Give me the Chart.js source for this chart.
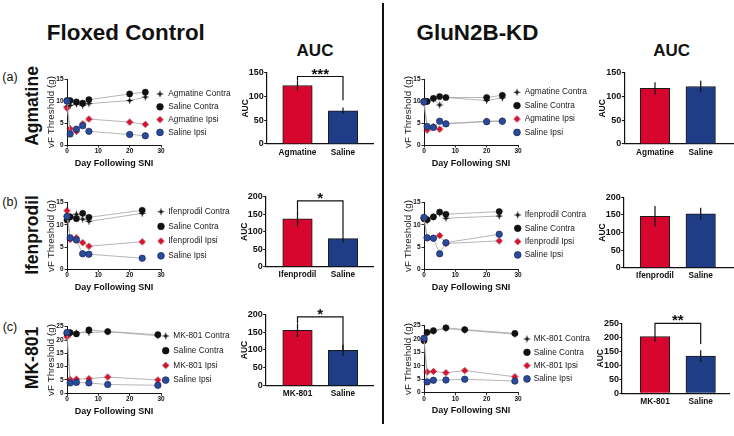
<!DOCTYPE html>
<html><head><meta charset="utf-8">
<script src="https://cdn.jsdelivr.net/npm/chart.js@4.4.1/dist/chart.umd.min.js"></script>
<style>
html,body{margin:0;padding:0;background:#fff;}
body{width:734px;height:436px;position:relative;overflow:hidden;font-family:"Liberation Sans",Arial,sans-serif;color:#111;}
.t{position:absolute;white-space:nowrap;line-height:1;transform:translate(-50%,-50%);}
.r{position:absolute;white-space:nowrap;line-height:1;transform:translate(-50%,-50%) rotate(-90deg);font-weight:bold;}
.box{position:absolute;}
#divider{position:absolute;left:382px;top:3px;width:2px;height:421px;background:#111;}
</style></head><body>
<div id="divider"></div>
<div class="t" style="left:125.8px;top:33.3px;font-size:22.4px;font-weight:bold">Floxed Control</div>
<div class="t" style="left:477.5px;top:33.3px;font-size:22.4px;font-weight:bold">GluN2B-KD</div>
<div class="t" style="left:315px;top:50px;font-size:17px;font-weight:bold">AUC</div>
<div class="t" style="left:671.7px;top:50px;font-size:17px;font-weight:bold">AUC</div>
<div class="t" style="left:10px;top:77px;font-size:12.5px">(a)</div>
<div class="t" style="left:10px;top:202px;font-size:12.5px">(b)</div>
<div class="t" style="left:10px;top:327px;font-size:12.5px">(c)</div>
<div class="r" style="left:33px;top:106px;font-size:17.5px">Agmatine</div>
<div class="r" style="left:33px;top:235px;font-size:17.5px">Ifenprodil</div>
<div class="r" style="left:33px;top:358px;font-size:17.5px">MK-801</div>
<script>
// ---------- DATA ----------
const dayTicks = [0, 10, 20, 30];
const thresholdTicks15 = [0, 5, 10, 15];
const thresholdTicks25 = [0, 5, 10, 15, 20, 25];
const aucTicks150 = [0, 50, 100, 150];
const aucTicks200 = [0, 50, 100, 150, 200];
const aucTicks250 = [0, 50, 100, 150, 200, 250];

const daysAgmatine = [0, 1, 3, 5, 7, 20, 25];
const daysIfenprodil = [0, 1, 3, 5, 7, 24];
const daysMK801 = [0, 1, 3, 7, 13, 29];

const labelsAgmatine = ['Agmatine Contra', 'Saline Contra', 'Agmatine Ipsi', 'Saline Ipsi'];
const labelsIfenprodil = ['Ifenprodil Contra', 'Saline Contra', 'Ifenprodil Ipsi', 'Saline Ipsi'];
const labelsMK801 = ['MK-801 Contra', 'Saline Contra', 'MK-801 Ipsi', 'Saline Ipsi'];

// Floxed control - Agmatine
const floxAgmatineContra = [8.8, 9.0, 9.3, 9.0, 9.4, 10.1, 10.9];
const floxAgSalineContra = [10.1, 10.1, 9.8, 9.5, 10.3, 11.6, 12.0];
const floxAgmatineIpsi = [8.4, 3.7, 3.1, 4.8, 5.9, 5.2, 4.7];
const floxAgSalineIpsi = [10.0, 2.5, 3.6, 4.4, 3.1, 2.4, 2.1];
// GluN2B-KD - Agmatine
const kdAgmatineContra = [9.8, 9.9, 10.4, 9.1, 10.8, 10.1, 10.7];
const kdAgSalineContra = [9.9, 9.9, 10.6, 11.0, 10.8, 10.8, 11.3];
const kdAgmatineIpsi = [9.6, 3.4, 4.2, 3.6, 4.9, 5.4, 5.5];
const kdAgSalineIpsi = [9.8, 4.2, 4.0, 5.4, 4.8, 5.3, 5.4];
// Floxed control - Ifenprodil
const floxIfenprodilContra = [12.0, 11.9, 12.4, 11.3, 10.8, 12.6];
const floxIfSalineContra = [11.1, 11.8, 11.4, 12.6, 11.7, 13.3];
const floxIfenprodilIpsi = [13.2, 6.7, 7.1, 6.0, 5.2, 6.2];
const floxIfSalineIpsi = [11.9, 7.1, 6.6, 3.5, 3.4, 2.5];
// GluN2B-KD - Ifenprodil
const kdIfenprodilContra = [11.5, 10.9, 11.8, 12.6, 11.5, 12.0];
const kdIfSalineContra = [11.4, 11.2, 11.8, 12.9, 12.4, 13.0];
const kdIfenprodilIpsi = [11.5, 7.1, 7.0, 7.6, 5.8, 6.4];
const kdIfSalineIpsi = [11.7, 7.1, 7.0, 3.5, 6.0, 7.9];
// Floxed control - MK-801
const floxMK801Contra = [22.8, 22.3, 22.6, 22.8, 23.1, 21.6];
const floxMKSalineContra = [22.3, 22.8, 22.3, 23.8, 23.2, 22.0];
const floxMK801Ipsi = [21.2, 5.2, 5.3, 5.5, 6.1, 5.0];
const floxMKSalineIpsi = [22.8, 3.9, 4.1, 3.9, 3.3, 3.0];
// GluN2B-KD - MK-801
const kdMK801Contra = [19.6, 22.1, 22.8, 23.8, 23.2, 21.7];
const kdMKSalineContra = [19.3, 22.4, 23.0, 24.1, 23.4, 22.0];
const kdMK801Ipsi = [20.0, 7.7, 7.9, 7.4, 8.2, 5.9];
const kdMKSalineIpsi = [20.2, 4.0, 4.6, 4.7, 5.0, 4.3];

// AUC bars
const aucCatsAgmatine = ['Agmatine', 'Saline'];
const aucCatsIfenprodil = ['Ifenprodil', 'Saline'];
const aucCatsMK801 = ['MK-801', 'Saline'];
const aucFloxAgmatine = [123, 70];
const aucFloxAgmatineErr = [11, 7];
const aucKdAgmatine = [117, 121];
const aucKdAgmatineErr = [13, 12];
const aucFloxIfenprodil = [137, 80];
const aucFloxIfenprodilErr = [23, 10];
const aucKdIfenprodil = [146, 153];
const aucKdIfenprodilErr = [29, 17];
const aucFloxMK801 = [155, 99];
const aucFloxMK801Err = [19, 16];
const aucKdMK801 = [203, 133];
const aucKdMK801Err = [19, 21];
// significance brackets (value units)
const sigFloxAgmatine = {text: '***', y: 142, leftEnd: 134, rightEnd: 92};
const sigFloxIfenprodil = {text: '*', y: 188, leftEnd: 160, rightEnd: 90};
const sigFloxMK801 = {text: '*', y: 193, leftEnd: 175, rightEnd: 100};
const sigKdMK801 = {text: '**', y: 250, leftEnd: 222, rightEnd: 176};

// ---------- STYLE ----------
const FONT = '"Liberation Sans", Arial, sans-serif';
Chart.defaults.font.family = FONT;
Chart.defaults.color = '#111';
const BAR_RED = '#d6062e', BAR_BLUE = '#1f3d87';

function starImg(fill, edge, r, spike) {
  const s = 11, c = document.createElement('canvas');
  c.width = s; c.height = s;
  const g = c.getContext('2d'), m = s / 2;
  if (spike > 0) {
    g.strokeStyle = fill; g.lineWidth = 0.9;
    g.beginPath(); g.moveTo(m, m - spike); g.lineTo(m, m + spike);
    g.moveTo(m - spike, m); g.lineTo(m + spike, m); g.stroke();
  }
  g.beginPath(); g.moveTo(m, m - r); g.lineTo(m + r, m); g.lineTo(m, m + r); g.lineTo(m - r, m); g.closePath();
  g.fillStyle = fill; g.fill();
  if (edge) { g.strokeStyle = edge; g.lineWidth = 0.6; g.stroke(); }
  return c;
}
const STAR_BLACK = starImg('#111', null, 2.2, 3.2);
const STAR_RED = starImg('#d8102e', '#8a0a1e', 3.2, 0);

const seriesStyles = [
  {pointStyle: STAR_BLACK, pointRadius: 4},
  {pointStyle: 'circle', pointRadius: 3.1, pointBackgroundColor: '#111', pointBorderColor: '#111', pointBorderWidth: 0.5},
  {pointStyle: STAR_RED, pointRadius: 4},
  {pointStyle: 'circle', pointRadius: 3.2, pointBackgroundColor: '#2a4b9b', pointBorderColor: '#15275a', pointBorderWidth: 0.7}
];

function drawMarker(ctx, ds, x, y, r) {
  const st = ds.pointStyle;
  if (typeof st === 'object') { ctx.drawImage(st, x - st.width / 2, y - st.height / 2); return; }
  ctx.beginPath(); ctx.arc(x, y, r, 0, Math.PI * 2);
  ctx.fillStyle = ds.pointBackgroundColor; ctx.fill();
  if (ds.pointBorderWidth) { ctx.lineWidth = ds.pointBorderWidth; ctx.strokeStyle = ds.pointBorderColor; ctx.stroke(); }
}

Chart.register({
  id: 'seriesLegend',
  afterDraw(chart, args, o) {
    if (!o || !o.mx) return;
    const ctx = chart.ctx;
    ctx.save();
    ctx.font = '8.3px ' + FONT; ctx.textBaseline = 'middle'; ctx.textAlign = 'left';
    chart.data.datasets.forEach((ds, i) => {
      const y = o.y + i * o.dy;
      drawMarker(ctx, ds, o.mx, y, 3.4);
      ctx.fillStyle = '#1a1a1a';
      ctx.fillText(ds.label, o.tx, y);
    });
    ctx.restore();
  }
});
Chart.register({
  id: 'errorBars',
  afterDatasetsDraw(chart) {
    const ds = chart.data.datasets[0];
    if (!ds || !ds.errors) return;
    const ctx = chart.ctx, ys = chart.scales.y, meta = chart.getDatasetMeta(0);
    ctx.save(); ctx.strokeStyle = '#111'; ctx.lineWidth = 1.2;
    meta.data.forEach((el, i) => {
      const v = ds.data[i].y, e = ds.errors[i];
      ctx.beginPath(); ctx.moveTo(el.x, ys.getPixelForValue(v + e)); ctx.lineTo(el.x, ys.getPixelForValue(v - e)); ctx.stroke();
    });
    ctx.restore();
  }
});
Chart.register({
  id: 'sigBracket',
  afterDatasetsDraw(chart, args, o) {
    if (!o || !o.text) return;
    const ctx = chart.ctx, ys = chart.scales.y, meta = chart.getDatasetMeta(0);
    const x1 = meta.data[0].x, x2 = meta.data[1].x, y = ys.getPixelForValue(o.y);
    ctx.save(); ctx.strokeStyle = '#111'; ctx.lineWidth = 1.2;
    ctx.beginPath();
    ctx.moveTo(x1, ys.getPixelForValue(o.leftEnd)); ctx.lineTo(x1, y); ctx.lineTo(x2, y); ctx.lineTo(x2, ys.getPixelForValue(o.rightEnd));
    ctx.stroke();
    ctx.fillStyle = '#111'; ctx.font = 'bold 15px ' + FONT; ctx.textAlign = 'center'; ctx.textBaseline = 'alphabetic';
    ctx.fillText(o.text, (x1 + x2) / 2, y + 2);
    ctx.restore();
  }
});

function makeCanvas(b) {
  const d = document.createElement('div');
  d.className = 'box';
  d.style.left = b.l + 'px'; d.style.top = b.t + 'px';
  d.style.width = (b.r - b.l) + 'px'; d.style.height = (b.b - b.t) + 'px';
  const c = document.createElement('canvas');
  c.width = b.r - b.l; c.height = b.b - b.t;
  c.style.width = c.width + 'px'; c.style.height = c.height + 'px';
  d.appendChild(c); document.body.appendChild(d);
  return c;
}

function axisStyle(tickLen) {
  return {
    grid: {display: true, drawOnChartArea: false, drawTicks: true, tickLength: tickLen, color: '#111', lineWidth: 0.9},
    border: {display: true, color: '#111', width: 1}
  };
}

function lineChart(f, days, series, labels, yTicks, lg) {
  const b = {l: f.l < 300 ? 40 : 397, r: f.l < 300 ? 240 : 600, t: Math.floor(f.t - 12), b: Math.ceil(f.b + 26)};
  const c = makeCanvas(b);
  const padL = f.l - b.l, padT = f.t - b.t, padR = b.r - f.r, padB = b.b - f.b;
  const datasets = series.map((vals, k) => Object.assign({
    label: labels[k],
    data: days.map((d, i) => ({x: d, y: vals[i]})),
    borderColor: '#a3a3a3', borderWidth: 0.8, clip: false, order: 3 - k, tension: 0, fill: false
  }, seriesStyles[k]));
  const yTitleCenter = (f.l - 15.3) - b.l;
  const xTitleFromBottom = padB - 18.3;
  new Chart(c, {
    type: 'line',
    data: {datasets},
    options: {
      responsive: false, animation: false, events: [],
      layout: {padding: {left: 0, top: padT, right: padR, bottom: 0}},
      plugins: {legend: {display: false}, tooltip: {enabled: false},
        seriesLegend: {mx: lg.mx - b.l, tx: lg.tx - b.l, y: lg.y - b.t, dy: lg.dy}},
      scales: {
        x: Object.assign({
          type: 'linear', min: 0, max: 30,
          afterBuildTicks: s => { s.ticks = dayTicks.map(v => ({value: v})); },
          afterFit: s => { s.height = padB; },
          ticks: {font: {size: 6.5, weight: 'bold'}, color: '#111', padding: 0, maxRotation: 0, autoSkip: false},
          title: {display: true, text: 'Day Following SNI', font: {size: 9, weight: 'bold'}, color: '#111',
            padding: {top: 0, bottom: xTitleFromBottom - 5.4}}
        }, axisStyle(2.5)),
        y: Object.assign({
          type: 'linear', min: 0, max: yTicks[yTicks.length - 1],
          afterBuildTicks: s => { s.ticks = yTicks.map(v => ({value: v})); },
          afterFit: s => { s.width = padL; },
          ticks: {font: {size: 6.5, weight: 'bold'}, color: '#111', padding: 1},
          title: {display: true, text: 'vF Threshold (g)', font: {size: 9.8}, color: '#222',
            padding: {top: yTitleCenter - 5.88, bottom: 0}}
        }, axisStyle(2.5))
      }
    }
  });
}

function barChart(f, cats, vals, errs, yTicks, sig) {
  const b = {l: Math.floor(f.axis - 34), r: Math.ceil(f.r), t: Math.floor(f.t - 16), b: Math.ceil(f.b + 20)};
  const c = makeCanvas(b);
  const padL = f.axis - b.l, padT = f.t - b.t, padR = b.r - f.r, padB = b.b - f.b;
  const unit = f.c2 - f.c1;
  const xmin = 1 - (f.c1 - f.axis) / unit, xmax = 2 + (f.r - f.c2) / unit;
  const yTitleCenter = (f.axis - 21.5) - b.l;
  new Chart(c, {
    type: 'bar',
    data: {datasets: [{
      data: vals.map((v, i) => ({x: i + 1, y: v})),
      errors: errs,
      backgroundColor: [BAR_RED, BAR_BLUE], borderColor: '#1a1a1a', borderWidth: 1, barThickness: 29.5
    }]},
    options: {
      responsive: false, animation: false, events: [],
      layout: {padding: {left: 0, top: padT, right: padR, bottom: 0}},
      plugins: {legend: {display: false}, tooltip: {enabled: false}, sigBracket: sig || {}},
      scales: {
        x: {
          type: 'linear', offset: false, min: xmin, max: xmax,
          afterBuildTicks: s => { s.ticks = cats.map((_, i) => ({value: i + 1})); },
          afterFit: s => { s.height = padB; },
          ticks: {callback: (v, i) => cats[i], font: {size: 8.3, weight: 'bold'}, color: '#111', padding: 3.5, maxRotation: 0, autoSkip: false},
          grid: {display: false, drawTicks: false, offset: false},
          border: {display: true, color: '#111', width: 1.2}
        },
        y: {
          type: 'linear', min: 0, max: yTicks[yTicks.length - 1],
          afterBuildTicks: s => { s.ticks = yTicks.map(v => ({value: v})); },
          afterFit: s => { s.width = padL; },
          ticks: {font: {size: 9, weight: 'bold'}, color: '#111', padding: 0.5},
          title: {display: true, text: 'AUC', font: {size: 8.5, weight: 'bold'}, color: '#111',
            padding: {top: yTitleCenter - 5.1, bottom: 0}},
          grid: {display: true, drawOnChartArea: false, drawTicks: true, tickLength: 2.5, color: '#111', lineWidth: 1.1},
          border: {display: true, color: '#111', width: 1.2}
        }
      }
    }
  });
}

// ---------- LINE CHARTS ----------
lineChart({l: 67, r: 161, t: 79, b: 145}, daysAgmatine,
  [floxAgmatineContra, floxAgSalineContra, floxAgmatineIpsi, floxAgSalineIpsi], labelsAgmatine, thresholdTicks15,
  {mx: 160, tx: 168.3, y: 94, dy: 12.8});
lineChart({l: 424, r: 518, t: 79, b: 145}, daysAgmatine,
  [kdAgmatineContra, kdAgSalineContra, kdAgmatineIpsi, kdAgSalineIpsi], labelsAgmatine, thresholdTicks15,
  {mx: 517, tx: 524.7, y: 92.2, dy: 13.4});
lineChart({l: 67, r: 161, t: 202.7, b: 269.3}, daysIfenprodil,
  [floxIfenprodilContra, floxIfSalineContra, floxIfenprodilIpsi, floxIfSalineIpsi], labelsIfenprodil, thresholdTicks15,
  {mx: 161, tx: 168.3, y: 211.7, dy: 14.7});
lineChart({l: 424, r: 518, t: 202.7, b: 269.3}, daysIfenprodil,
  [kdIfenprodilContra, kdIfSalineContra, kdIfenprodilIpsi, kdIfSalineIpsi], labelsIfenprodil, thresholdTicks15,
  {mx: 517.7, tx: 524.7, y: 215, dy: 13.3});
lineChart({l: 67, r: 161, t: 326.7, b: 393.3}, daysMK801,
  [floxMK801Contra, floxMKSalineContra, floxMK801Ipsi, floxMKSalineIpsi], labelsMK801, thresholdTicks25,
  {mx: 165.7, tx: 173.3, y: 336, dy: 14.7});
lineChart({l: 424, r: 518, t: 325.3, b: 392.7}, daysMK801,
  [kdMK801Contra, kdMKSalineContra, kdMK801Ipsi, kdMKSalineIpsi], labelsMK801, thresholdTicks25,
  {mx: 527, tx: 533.7, y: 339, dy: 13.3});

// ---------- BAR CHARTS ----------
barChart({axis: 266.7, t: 72.7, b: 144, c1: 297.5, c2: 343, r: 374}, aucCatsAgmatine, aucFloxAgmatine, aucFloxAgmatineErr, aucTicks150, sigFloxAgmatine);
barChart({axis: 624.3, t: 72.7, b: 144, c1: 655, c2: 700.7, r: 734}, aucCatsAgmatine, aucKdAgmatine, aucKdAgmatineErr, aucTicks150, null);
barChart({axis: 265.7, t: 196.7, b: 266.7, c1: 297.5, c2: 343, r: 374}, aucCatsIfenprodil, aucFloxIfenprodil, aucFloxIfenprodilErr, aucTicks200, sigFloxIfenprodil);
barChart({axis: 623.7, t: 197.3, b: 267.7, c1: 655, c2: 700.7, r: 734}, aucCatsIfenprodil, aucKdIfenprodil, aucKdIfenprodilErr, aucTicks200, null);
barChart({axis: 265.7, t: 314.3, b: 385.7, c1: 297.5, c2: 343, r: 374}, aucCatsMK801, aucFloxMK801, aucFloxMK801Err, aucTicks200, sigFloxMK801);
barChart({axis: 622, t: 323.3, b: 393.3, c1: 655, c2: 700.7, r: 730}, aucCatsMK801, aucKdMK801, aucKdMK801Err, aucTicks250, sigKdMK801);
</script>
</body></html>
